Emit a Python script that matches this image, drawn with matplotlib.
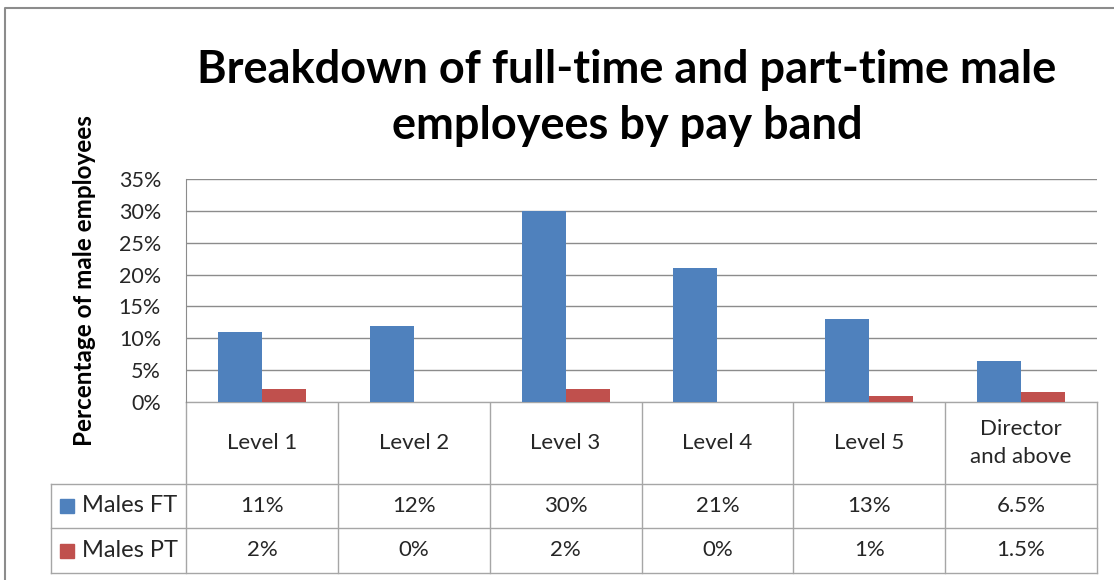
import matplotlib
matplotlib.use("Agg")
import matplotlib.pyplot as plt
import numpy as np

plt.rcParams["font.family"] = ["Lato", "DejaVu Sans"]

# pay band breakdown, percent of male employees
bands = ["Level 1", "Level 2", "Level 3", "Level 4", "Level 5", "Director\nand above"]
males_ft = [11, 12, 30, 21, 13, 6.5]
males_pt = [2, 0, 2, 0, 1, 1.5]
series_names = ["Males FT", "Males PT"]
y_ticks = [0, 5, 10, 15, 20, 25, 30, 35]
title_lines = ["Breakdown of full-time and part-time male", "employees by pay band"]

BLUE = "#4F81BD"
RED = "#C0504D"
GRID = "#8C8C8C"
TABLE = "#A6A6A6"
INK = "#262626"

W, H = 1114, 580
fig = plt.figure(figsize=(W / 100, H / 100), dpi=100)

# pixel-space overlay for the frame and data table
ov = fig.add_axes([0, 0, 1, 1])
ov.set_xlim(0, W)
ov.set_ylim(H, 0)
ov.axis("off")

# plot area
x0, x1 = 186, 1097
y_top, y_zero = 179, 402
ax = fig.add_axes([x0 / W, (H - y_zero) / H, (x1 - x0) / W, (y_zero - y_top) / H])
n = len(bands)
idx = np.arange(n)
bw = 0.29
ax.bar(idx - bw / 2, males_ft, bw, color=BLUE, zorder=3)
ax.bar(idx + bw / 2, males_pt, bw, color=RED, zorder=3)
ax.set_xlim(-0.5, n - 0.5)
ax.set_ylim(0, 35)
ax.set_yticks(y_ticks)
ax.set_yticklabels([f"{t}%" for t in y_ticks], fontsize=15.5, color=INK)
ax.tick_params(axis="y", length=0, pad=18)
ax.set_xticks([])
ax.grid(axis="y", color=GRID, linewidth=1.0, zorder=0)
for side in ["top", "right", "bottom"]:
    ax.spines[side].set_visible(False)
ax.spines["left"].set_color(GRID)

# outer chart frame
ov.plot([5, 5, W], [H, 8, 8], color="#8C8C8C", linewidth=1.5)

# title and axis title
for line, ty in zip(title_lines, [70, 126]):
    ov.text(627, ty, line, ha="center", va="center", fontsize=32.5, fontweight="bold")
ov.text(85, 281, "Percentage of male employees", rotation=90, ha="center",
        va="center", fontsize=17.5, fontweight="bold")

# data table under the axis
rows_y = [402, 484, 528, 573]
col_w = (x1 - x0) / n
col_x = [x0 + i * col_w for i in range(n + 1)]
legend_x = 51
lw = 1.0
for y in rows_y[1:]:
    ov.plot([legend_x, x1], [y, y], color=TABLE, linewidth=lw)
ov.plot([x0, x1], [rows_y[0], rows_y[0]], color=TABLE, linewidth=lw)
for x in col_x:
    ov.plot([x, x], [rows_y[0], rows_y[3]], color=TABLE, linewidth=lw)
ov.plot([legend_x, legend_x], [rows_y[1], rows_y[3]], color=TABLE, linewidth=lw)

for i, b in enumerate(bands):
    cx = (col_x[i] + col_x[i + 1]) / 2
    ov.text(cx, (rows_y[0] + rows_y[1]) / 2, b, ha="center", va="center",
            fontsize=16, color=INK, linespacing=1.5)
    ov.text(cx, (rows_y[1] + rows_y[2]) / 2, f"{males_ft[i]:g}%", ha="center",
            va="center", fontsize=16, color=INK)
    ov.text(cx, (rows_y[2] + rows_y[3]) / 2, f"{males_pt[i]:g}%", ha="center",
            va="center", fontsize=16, color=INK)

for r, (name, col) in enumerate(zip(series_names, [BLUE, RED])):
    cy = (rows_y[r + 1] + rows_y[r + 2]) / 2
    ov.add_patch(plt.Rectangle((60, cy - 7), 14, 14, color=col))
    ov.text(82, cy, name, ha="left", va="center", fontsize=17, color=INK)

fig.savefig("out.png", dpi=100)
